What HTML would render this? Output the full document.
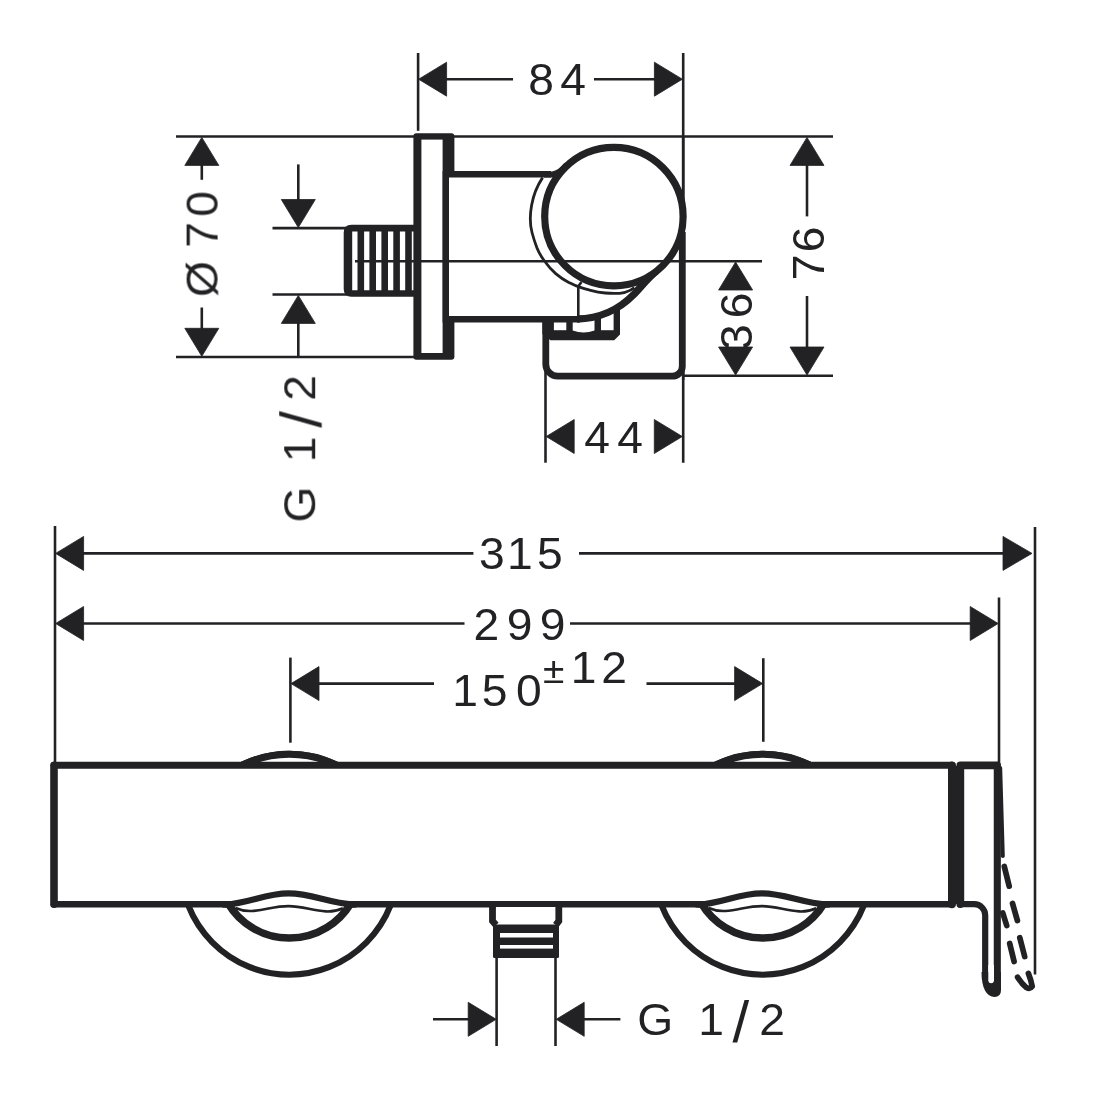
<!DOCTYPE html>
<html lang="en"><head><meta charset="utf-8"><title>Dimension drawing</title>
<style>
html,body{margin:0;padding:0;background:#fff;}
body{width:1100px;height:1100px;overflow:hidden;font-family:"Liberation Sans",sans-serif;}
svg{display:block;}
.t{font-family:"Liberation Sans",sans-serif;fill:#222225;stroke:none;text-anchor:middle;}
</style></head>
<body>
<svg width="1100" height="1100" viewBox="0 0 1100 1100">
<rect x="0" y="0" width="1100" height="1100" fill="#fff"/>
<g id="upper" stroke="#222225" fill="none">
<line x1="176" y1="136.5" x2="833" y2="136.5" stroke-width="2.6" stroke-linecap="butt"/>
<line x1="176" y1="357" x2="416" y2="357" stroke-width="2.6" stroke-linecap="butt"/>
<line x1="683" y1="375.7" x2="833" y2="375.7" stroke-width="2.6" stroke-linecap="butt"/>
<line x1="272.5" y1="228.1" x2="347" y2="228.1" stroke-width="2.6" stroke-linecap="butt"/>
<line x1="272.5" y1="294.5" x2="347" y2="294.5" stroke-width="2.6" stroke-linecap="butt"/>
<line x1="418.1" y1="53" x2="418.1" y2="130.8" stroke-width="2.6" stroke-linecap="butt"/>
<line x1="683.2" y1="53" x2="683.2" y2="462.7" stroke-width="2.6" stroke-linecap="butt"/>
<line x1="545.5" y1="358" x2="545.5" y2="462.7" stroke-width="2.6" stroke-linecap="butt"/>
<path d="M415,228.1 H351.5 Q347,228.1 347,232.6 V289 Q347,293.5 351.5,293.5 H415" fill="#fff" stroke-width="6.6"/>
<rect x="345" y="231" width="7.2" height="60" fill="#222225" stroke="none"/>
<rect x="357.5" y="229" width="6.6" height="64" fill="#222225" stroke="none"/>
<rect x="369.4" y="229" width="6.6" height="64" fill="#222225" stroke="none"/>
<rect x="381.4" y="229" width="6.6" height="64" fill="#222225" stroke="none"/>
<rect x="393.3" y="229" width="6.6" height="64" fill="#222225" stroke="none"/>
<rect x="405.2" y="229" width="6.6" height="64" fill="#222225" stroke="none"/>
<rect x="413.4" y="133.3" width="41" height="226.5" rx="3" fill="#222225" stroke="none"/>
<rect x="421.4" y="139.6" width="21.2" height="213.4" fill="#fff" stroke="none"/>
<path d="M545.8,318 V364.2 A12,12 0 0 0 557.8,376.2 H672.3 A10,10 0 0 0 682.3,366.2 V232" fill="#fff" stroke-width="6.8"/>
<rect x="448.8" y="174.5" width="150" height="144" fill="#fff" stroke="none"/>
<path d="M551,174.3 H445.8 V319.3 H580" stroke-width="6.4" stroke-linejoin="miter"/>
<path d="M544,171.4 H552 Q558.5,170.5 564.5,162.8 L568,168 L556,177.6 H544 Z" fill="#222225" stroke="none"/>
<path d="M542.4,319 H577 A80.4,80.4 0 0 0 620,306.5 V334.5 L614.2,340.3 H550.5 L542.4,334 Z" fill="#222225" stroke="none"/>
<rect x="553.9" y="321" width="12.4" height="9.2" fill="#fff" stroke="none"/>
<path d="M572.7,318 H594.5 V330.6 Q583.6,334.6 572.7,330.6 Z" fill="#fff" stroke="none"/>
<rect x="601" y="312" width="12.6" height="18.2" fill="#fff" stroke="none"/>
<path d="M543,319.3 H580" stroke-width="6.4"/>
<path d="M577,319 A80.4,80.4 0 0 0 633.7,294.5 C639.3,288.8 648.7,277.1 656.6,270.9" stroke-width="7.4"/>
<path d="M542.6,177.6 C537,186 533,197 531.6,205.3 C530.2,213 530,225 532,232.5 C533.6,238.5 535.5,244 536.8,247.5 C539,253 541.5,257 544.1,260.5 C548,266 551.5,270 555.7,273.6 C560,277.3 564,280 568.8,282.4 C572,284 575,285.6 578.3,286.7 C582,288 586,289.4 590.6,290.4 C595,291.6 600,292.6 605.2,293 C610,293.5 615,293.6 619.7,293.3 C624,293 627.5,291.8 630,290.4 C632,289.3 633.5,288.3 634.3,287.5" stroke-width="2.8"/>
<path d="M578.2,286.6 L581.5,282" stroke-width="2.6"/>
<line x1="578.3" y1="286.5" x2="578.3" y2="317" stroke-width="2.6" stroke-linecap="butt"/>
<circle cx="613.9" cy="216.6" r="69.2" fill="#fff" stroke-width="7.2"/>
<line x1="355" y1="261.2" x2="762" y2="261.2" stroke-width="2.6" stroke-linecap="butt"/>
<line x1="683.2" y1="136" x2="683.2" y2="380" stroke-width="2.6" stroke-linecap="butt"/>
</g>
<g id="dimsU" stroke="#222225" fill="none">
<line x1="446" y1="79.2" x2="513" y2="79.2" stroke-width="2.6" stroke-linecap="butt"/>
<line x1="594" y1="79.2" x2="655" y2="79.2" stroke-width="2.6" stroke-linecap="butt"/>
<polygon points="418.6,79.2 446.6,62.2 446.6,96.2" fill="#222225" stroke="#222225" stroke-width="0.8" stroke-linejoin="round"/>
<polygon points="682.4,79.2 654.4,62.2 654.4,96.2" fill="#222225" stroke="#222225" stroke-width="0.8" stroke-linejoin="round"/>
<polygon points="546.2,436.5 574.2,419.5 574.2,453.5" fill="#222225" stroke="#222225" stroke-width="0.8" stroke-linejoin="round"/>
<polygon points="682.3,436.5 654.3,419.5 654.3,453.5" fill="#222225" stroke="#222225" stroke-width="0.8" stroke-linejoin="round"/>
<polygon points="201.8,137.4 184.8,165.4 218.8,165.4" fill="#222225" stroke="#222225" stroke-width="0.8" stroke-linejoin="round"/>
<line x1="201.8" y1="164" x2="201.8" y2="179.8" stroke-width="2.6" stroke-linecap="butt"/>
<line x1="201.8" y1="307.5" x2="201.8" y2="330" stroke-width="2.6" stroke-linecap="butt"/>
<polygon points="201.8,356.3 184.8,328.3 218.8,328.3" fill="#222225" stroke="#222225" stroke-width="0.8" stroke-linejoin="round"/>
<line x1="298.3" y1="164.4" x2="298.3" y2="201" stroke-width="2.6" stroke-linecap="butt"/>
<polygon points="298.3,227.5 281.3,199.5 315.3,199.5" fill="#222225" stroke="#222225" stroke-width="0.8" stroke-linejoin="round"/>
<polygon points="298.3,295.4 281.3,323.4 315.3,323.4" fill="#222225" stroke="#222225" stroke-width="0.8" stroke-linejoin="round"/>
<line x1="298.3" y1="322" x2="298.3" y2="357" stroke-width="2.6" stroke-linecap="butt"/>
<polygon points="807.0,137.4 790.0,165.4 824.0,165.4" fill="#222225" stroke="#222225" stroke-width="0.8" stroke-linejoin="round"/>
<line x1="807" y1="164" x2="807" y2="216.4" stroke-width="2.6" stroke-linecap="butt"/>
<line x1="807" y1="296" x2="807" y2="349" stroke-width="2.6" stroke-linecap="butt"/>
<polygon points="807.0,375.0 790.0,347.0 824.0,347.0" fill="#222225" stroke="#222225" stroke-width="0.8" stroke-linejoin="round"/>
<polygon points="735.6,262.0 718.6,290.0 752.6,290.0" fill="#222225" stroke="#222225" stroke-width="0.8" stroke-linejoin="round"/>
<polygon points="735.6,375.0 718.6,347.0 752.6,347.0" fill="#222225" stroke="#222225" stroke-width="0.8" stroke-linejoin="round"/>
</g>
<g id="lower" stroke="#222225" fill="none">
<line x1="55" y1="526" x2="55" y2="764" stroke-width="2.6" stroke-linecap="butt"/>
<line x1="1035" y1="527" x2="1035" y2="974.5" stroke-width="2.6" stroke-linecap="butt"/>
<line x1="999" y1="597.5" x2="999" y2="764" stroke-width="2.6" stroke-linecap="butt"/>
<line x1="290.4" y1="657.6" x2="290.4" y2="742.7" stroke-width="2.6" stroke-linecap="butt"/>
<line x1="763.3" y1="658.2" x2="763.3" y2="741.8" stroke-width="2.6" stroke-linecap="butt"/>
<ellipse cx="289.4" cy="864.3" rx="109" ry="110.4" stroke-width="6.1"/>
<path d="M242.5,765 A109,110 0 0 1 336.3,765" stroke-width="7.1"/>
<ellipse cx="762.7" cy="864.3" rx="109" ry="110.4" stroke-width="6.1"/>
<path d="M715.8,765 A109,110 0 0 1 809.6,765" stroke-width="7.1"/>
<rect x="54" y="765.3" width="898" height="139" fill="#fff" stroke="none"/>
<path d="M54,765.3 H952.3" stroke-width="6.9" stroke-linecap="round"/>
<path d="M54,904.3 H952.3" stroke-width="6.6" stroke-linecap="round"/>
<path d="M54,765.3 V904.3" stroke-width="7.6" stroke-linecap="round"/>
<path d="M951.9,765.3 V904.3" stroke-width="7.8" stroke-linecap="round"/>
<path d="M225.4,904.6 C249.4,903 265.4,893.4 288.6,893.4 C311.4,893.4 328.4,903 353.4,904.6 L349.9,904.5 A71.6,71.6 0 0 1 228.9,904.5 Z" fill="#fff" stroke="none"/>
<path d="M228.1,903.5 A71.6,71.6 0 0 0 350.7,903.5" stroke-width="7.5"/>
<path d="M222.4,904.4 L225.4,904.6 C249.4,903 265.4,893.4 288.6,893.4 C311.4,893.4 328.4,903 353.4,904.6 L356.4,904.4" stroke-width="6.2"/>
<path d="M235.4,908 C239.9,910 245.9,911.3 251.9,911 C265.9,910.2 273.9,906.1 288.5,906.1 C302.9,906.1 311.9,910.6 325.9,911.4 C331.9,911.7 337.9,910.5 342.9,908.2" stroke-width="2.6"/>
<path d="M698.7,904.6 C722.7,903 738.7,893.4 761.9,893.4 C784.7,893.4 801.7,903 826.7,904.6 L823.2,904.5 A71.6,71.6 0 0 1 702.2,904.5 Z" fill="#fff" stroke="none"/>
<path d="M701.4,903.5 A71.6,71.6 0 0 0 824.0,903.5" stroke-width="7.5"/>
<path d="M695.7,904.4 L698.7,904.6 C722.7,903 738.7,893.4 761.9,893.4 C784.7,893.4 801.7,903 826.7,904.6 L829.7,904.4" stroke-width="6.2"/>
<path d="M708.7,908 C713.2,910 719.2,911.3 725.2,911 C739.2,910.2 747.2,906.1 761.8,906.1 C776.2,906.1 785.2,910.6 799.2,911.4 C805.2,911.7 811.2,910.5 816.2,908.2" stroke-width="2.6"/>
<rect x="950" y="766" width="12" height="138" fill="#222225" stroke="none"/>
<path d="M958,904.2 H974 A11,11 0 0 1 985.2,915.2 V980" stroke-width="6.2" stroke-linejoin="round" fill="none"/>
<path d="M960.3,904 V765.4 H997" stroke-width="7.8" stroke-linejoin="round" stroke-linecap="round" fill="none"/>
<path d="M997.3,765.4 V985" stroke-width="7.1" stroke-linecap="round" fill="none"/>
<path d="M981.5,972 C981.5,988 986.5,997 994.5,997 Q1001,997 1001,990 V972 Z" fill="#222225" stroke="none"/>
<path d="M988.3,965 V981 A2.9,2.9 0 0 0 994,981 V965 Z" fill="#fff" stroke="none"/>
<path d="M1000.2,768 L1002.8,856" stroke-width="4" stroke-linecap="round"/>
<rect x="496" y="907" width="60" height="20" fill="#fff" stroke="none"/>
<path d="M492.5,904 V921 L496,925 M558.8,904 V921 L555.8,925" stroke-width="6.8"/>
<rect x="493" y="924.5" width="66" height="33.5" rx="1.5" fill="#222225" stroke="none"/>
<rect x="500" y="933" width="53" height="4.5" fill="#fff" stroke="none"/>
<rect x="500" y="945" width="53" height="3.6" fill="#fff" stroke="none"/>
<line x1="496.6" y1="957" x2="496.6" y2="1046" stroke-width="2.6" stroke-linecap="butt"/>
<line x1="555.5" y1="957" x2="555.5" y2="1046" stroke-width="2.6" stroke-linecap="butt"/>
<line x1="1004.3" y1="866.5" x2="1009.2" y2="886.2" stroke-width="5.7" stroke-linecap="round"/>
<line x1="1012.5" y1="903.4" x2="1017.4" y2="920.6" stroke-width="5.7" stroke-linecap="round"/>
<line x1="1019.8" y1="937.7" x2="1024.7" y2="956.6" stroke-width="5.7" stroke-linecap="round"/>
<line x1="1002.8" y1="913" x2="1006.7" y2="925.5" stroke-width="5.7" stroke-linecap="round"/>
<line x1="1009.7" y1="943.5" x2="1014.1" y2="961.5" stroke-width="5.7" stroke-linecap="round"/>
<path d="M1017.6,977.2 Q1022,984 1026.4,987.6 Q1030,989.6 1032.2,986.4 Q1031,980 1028.4,973.4" stroke-width="5.7" stroke-linecap="round" stroke-linejoin="round"/>
</g>
<g id="dimsL" stroke="#222225" fill="none">
<line x1="82" y1="553.4" x2="473.4" y2="553.4" stroke-width="2.6" stroke-linecap="butt"/>
<line x1="579" y1="553.4" x2="1004" y2="553.4" stroke-width="2.6" stroke-linecap="butt"/>
<polygon points="55.6,553.4 83.6,536.4 83.6,570.4" fill="#222225" stroke="#222225" stroke-width="0.8" stroke-linejoin="round"/>
<polygon points="1032.0,553.4 1003.0,536.4 1003.0,570.4" fill="#222225" stroke="#222225" stroke-width="0.8" stroke-linejoin="round"/>
<line x1="82" y1="623.5" x2="464.5" y2="623.5" stroke-width="2.6" stroke-linecap="butt"/>
<line x1="570" y1="623.5" x2="972" y2="623.5" stroke-width="2.6" stroke-linecap="butt"/>
<polygon points="55.6,623.5 83.6,606.5 83.6,640.5" fill="#222225" stroke="#222225" stroke-width="0.8" stroke-linejoin="round"/>
<polygon points="998.2,623.5 970.2,606.5 970.2,640.5" fill="#222225" stroke="#222225" stroke-width="0.8" stroke-linejoin="round"/>
<line x1="317" y1="683.6" x2="434" y2="683.6" stroke-width="2.6" stroke-linecap="butt"/>
<line x1="646.5" y1="683.6" x2="736" y2="683.6" stroke-width="2.6" stroke-linecap="butt"/>
<polygon points="291.0,683.6 319.0,666.6 319.0,700.6" fill="#222225" stroke="#222225" stroke-width="0.8" stroke-linejoin="round"/>
<polygon points="762.6,683.6 734.6,666.6 734.6,700.6" fill="#222225" stroke="#222225" stroke-width="0.8" stroke-linejoin="round"/>
<line x1="433" y1="1019.3" x2="469" y2="1019.3" stroke-width="2.6" stroke-linecap="butt"/>
<polygon points="496.2,1019.3 468.2,1002.3 468.2,1036.3" fill="#222225" stroke="#222225" stroke-width="0.8" stroke-linejoin="round"/>
<polygon points="556.2,1019.3 584.2,1002.3 584.2,1036.3" fill="#222225" stroke="#222225" stroke-width="0.8" stroke-linejoin="round"/>
<line x1="583" y1="1019.3" x2="620.4" y2="1019.3" stroke-width="2.6" stroke-linecap="butt"/>
</g>
<g id="txt" opacity="0.999">
<text class="t" transform="scale(1.05,1)" x="515.43 545.90" y="95.4" font-size="44">84</text>
<text class="t" transform="scale(1.05,1)" x="568.76 600.19" y="452.7" font-size="44">44</text>
<text class="t" transform="scale(1.05,1)" x="468.38 495.05 523.62" y="568.9" font-size="44">315</text>
<text class="t" transform="scale(1.05,1)" x="463.24 494.76 526.19" y="640.4" font-size="44">299</text>
<text class="t" transform="scale(1.05,1)" x="442.86 471.14 503.62" y="706.4" font-size="44">150</text>
<text class="t" transform="scale(1.05,1)" x="527.24 555.71 584.76" y="683.3" font-size="44"><tspan font-size="37">±</tspan>12</text>
<text class="t" transform="scale(1.05,1)" x="624.00 657.14 677.14 705.52 735.24" y="1035.2" font-size="44">G 1<tspan font-size="57" dy="6.4">/</tspan><tspan dy="-6.4">2</tspan></text>
<text class="t" transform="translate(217.6,0) rotate(-90) scale(1.05,1)" x="-265.71 -223.81 -194.29" y="0" font-size="44">Ø70</text>
<text class="t" transform="translate(824,0) rotate(-90) scale(1.05,1)" x="-254.57 -228.10" y="0" font-size="44">76</text>
<text class="t" transform="translate(751.5,0) rotate(-90) scale(1.05,1)" x="-321.14 -290.95" y="0" font-size="44">36</text>
<text class="t" transform="translate(315.2,0) rotate(-90) scale(1.05,1)" x="-480.48 -449.52 -428.10 -399.52 -369.52" y="0" font-size="44">G 1<tspan font-size="57" dy="6.4">/</tspan><tspan dy="-6.4">2</tspan></text>
</g>
</svg>
</body></html>
